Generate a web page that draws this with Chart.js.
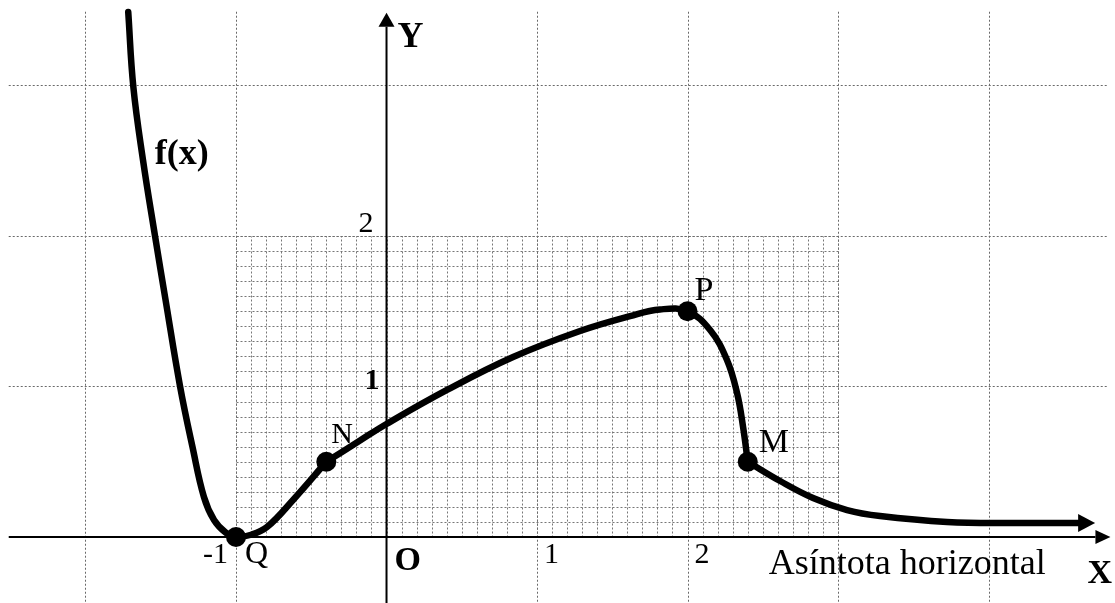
<!DOCTYPE html>
<html>
<head>
<meta charset="utf-8">
<style>
  html, body { margin: 0; padding: 0; background: #fff; }
  #wrap { width: 1115px; height: 603px; }
</style>
</head>
<body>
<div id="wrap"><canvas id="graph" width="1115" height="603"></canvas></div>
<script src="https://cdn.jsdelivr.net/npm/chart.js"></script>
<script>
// curve, split where the graph has corners (N and M)
const curveLeftX = [-1.716, -1.682, -1.618, -1.538, -1.468, -1.372, -1.289, -1.213, -1.146, -1.066, -1, -0.9, -0.794, -0.621, -0.4];
const curveLeftY = [3.488, 2.99, 2.505, 2.0, 1.575, 1.003, 0.598, 0.266, 0.113, 0.027, 0, 0.015, 0.066, 0.246, 0.5];
const curveMidX = [-0.4, -0.176, 0, 0.402, 0.841, 1.286, 1.618, 1.817, 2, 2.15, 2.262, 2.329, 2.369, 2.4];
const curveMidY = [0.5, 0.641, 0.751, 0.977, 1.196, 1.369, 1.468, 1.512, 1.5, 1.375, 1.176, 0.957, 0.731, 0.5];
const curveTailX = [2.4, 2.615, 2.834, 3.06, 3.279, 3.724, 4.163, 4.595];
const curveTailY = [0.5, 0.372, 0.259, 0.179, 0.139, 0.1, 0.093, 0.093];

// marked points
const pointNames = ['Q', 'N', 'P', 'M'];
const pointX = [-1, -0.4, 2, 2.4];
const pointY = [0, 0.5, 1.5, 0.5];

// axis numbers
const xTickValues = [-1, 1, 2];
const xTickLabels = ['-1', '1', '2'];
const yTickValues = [2, 1];
const yTickLabels = ['2', '1'];

const majorX = [-2, -1, 1, 2, 3, 4];
const majorY = [1, 2, 3];

const toPts = (xs, ys) => xs.map((x, i) => ({ x: x, y: ys[i] }));

const SERIF = '"Liberation Serif", "Times New Roman", serif';

const curveStyle = {
    showLine: true,
    borderColor: '#000',
    borderWidth: 6.5,
    borderCapStyle: 'round',
    borderJoinStyle: 'round',
    pointRadius: 0,
    tension: 0.4,
    fill: false
};

function arrowHead(ctx, x1, y1, x2, y2, len, half) {
    const a = Math.atan2(y2 - y1, x2 - x1);
    const tx = x2 + Math.cos(a) * len, ty = y2 + Math.sin(a) * len;
    ctx.beginPath();
    ctx.moveTo(tx, ty);
    ctx.lineTo(x2 - Math.sin(a) * half, y2 + Math.cos(a) * half);
    ctx.lineTo(x2 + Math.sin(a) * half, y2 - Math.cos(a) * half);
    ctx.closePath();
    ctx.fill();
}

const graphPaper = {
    id: 'graphPaper',
    beforeDatasetsDraw(chart) {
        const { ctx, scales: { x, y } } = chart;
        const px = v => Math.round(x.getPixelForValue(v)) + 0.5;
        const py = v => Math.round(y.getPixelForValue(v)) + 0.5;
        ctx.save();
        ctx.lineWidth = 1;
        ctx.setLineDash([2, 2]);

        // fine grid, 0.1 steps, only in [-1,3] x [0,2]
        ctx.strokeStyle = '#777';
        ctx.beginPath();
        for (let i = 0; i <= 40; i++) {
            const v = -1 + i * 0.1;
            ctx.moveTo(px(v), py(0));
            ctx.lineTo(px(v), py(2));
        }
        for (let i = 1; i <= 20; i++) {
            const v = i * 0.1;
            ctx.moveTo(px(-1), py(v));
            ctx.lineTo(px(3), py(v));
        }
        ctx.stroke();

        // big grid
        ctx.strokeStyle = '#6a6a6a';
        ctx.beginPath();
        majorX.forEach(v => {
            ctx.moveTo(px(v), y.getPixelForValue(3.49));
            ctx.lineTo(px(v), y.bottom);
        });
        majorY.forEach(v => {
            ctx.moveTo(x.getPixelForValue(-2.51), py(v));
            ctx.lineTo(x.getPixelForValue(4.79), py(v));
        });
        ctx.stroke();
        ctx.setLineDash([]);

        // axes with arrows
        ctx.strokeStyle = '#000';
        ctx.fillStyle = '#000';
        ctx.lineWidth = 2;
        const ox = x.getPixelForValue(0), oy = y.getPixelForValue(0);
        const xEnd = x.getPixelForValue(4.71), yEnd = y.getPixelForValue(3.39);
        ctx.beginPath();
        ctx.moveTo(x.getPixelForValue(-2.51), oy);
        ctx.lineTo(xEnd, oy);
        ctx.moveTo(ox, y.bottom);
        ctx.lineTo(ox, yEnd);
        ctx.stroke();
        arrowHead(ctx, ox, yEnd + 10, ox, yEnd, 14, 8);
        arrowHead(ctx, xEnd - 10, oy, xEnd, oy, 15, 7);
        ctx.restore();
    },
    afterDatasetsDraw(chart) {
        const { ctx, scales: { x, y } } = chart;
        ctx.save();
        ctx.fillStyle = '#000';

        // arrow at the end of the curve
        const n = curveTailX.length;
        arrowHead(ctx,
            x.getPixelForValue(curveTailX[n - 2]), y.getPixelForValue(curveTailY[n - 2]),
            x.getPixelForValue(curveTailX[n - 1]), y.getPixelForValue(curveTailY[n - 1]), 17, 9);

        const text = (s, vx, vy, dx, dy, font, align) => {
            ctx.font = font;
            ctx.textAlign = align || 'left';
            ctx.textBaseline = 'alphabetic';
            ctx.fillText(s, x.getPixelForValue(vx) + dx, y.getPixelForValue(vy) + dy);
        };

        // point names
        const nameOffsets = { Q: [9, 26, 32], N: [5, -19, 30], P: [7, -11, 34], M: [11, -10, 34] };
        pointNames.forEach((nm, i) => {
            const o = nameOffsets[nm];
            text(nm, pointX[i], pointY[i], o[0], o[1], o[2] + 'px ' + SERIF);
        });

        // numbers on the axes
        xTickValues.forEach((v, i) => {
            if (v < 0) text(xTickLabels[i], v, 0, -8, 26, '30px ' + SERIF, 'right');
            else text(xTickLabels[i], v, 0, 7, 26, '30px ' + SERIF);
        });
        yTickValues.forEach((v, i) => {
            if (v === 1) text(yTickLabels[i], 0, v, -7, 3, 'bold 30px ' + SERIF, 'right');
            else text(yTickLabels[i], 0, v, -13, -4, '30px ' + SERIF, 'right');
        });

        text('O', 0, 0, 8, 33, 'bold 34px ' + SERIF);
        text('Y', 0, 3.39, 11, 20, 'bold 36px ' + SERIF);
        text('X', 4.71, 0, -8, 46, 'bold 34px ' + SERIF);
        text('f(x)', -1.54, 2.48, 0, 0, 'bold 36px ' + SERIF);
        text('Asíntota horizontal', 4.38, 0, 0, 37, '36px ' + SERIF, 'right');
        ctx.restore();
    }
};

new Chart(document.getElementById('graph').getContext('2d'), {
    type: 'scatter',
    data: {
        datasets: [
            Object.assign({ label: 'f(x) izquierda', data: toPts(curveLeftX, curveLeftY) }, curveStyle),
            Object.assign({ label: 'f(x) centro', data: toPts(curveMidX, curveMidY) }, curveStyle),
            Object.assign({ label: 'f(x) cola', data: toPts(curveTailX, curveTailY) }, curveStyle),
            {
                label: 'puntos',
                data: toPts(pointX, pointY),
                showLine: false,
                pointRadius: 10,
                pointBackgroundColor: '#000',
                pointBorderColor: '#000',
                pointBorderWidth: 0
            }
        ]
    },
    options: {
        responsive: false,
        animation: false,
        events: [],
        layout: { padding: 0, autoPadding: false },
        plugins: { legend: { display: false }, tooltip: { enabled: false } },
        scales: {
            x: { type: 'linear', min: -2.568, max: 4.840, display: false },
            y: { type: 'linear', min: -0.4385, max: 3.568, display: false }
        }
    },
    plugins: [graphPaper]
});
</script>
</body>
</html>
